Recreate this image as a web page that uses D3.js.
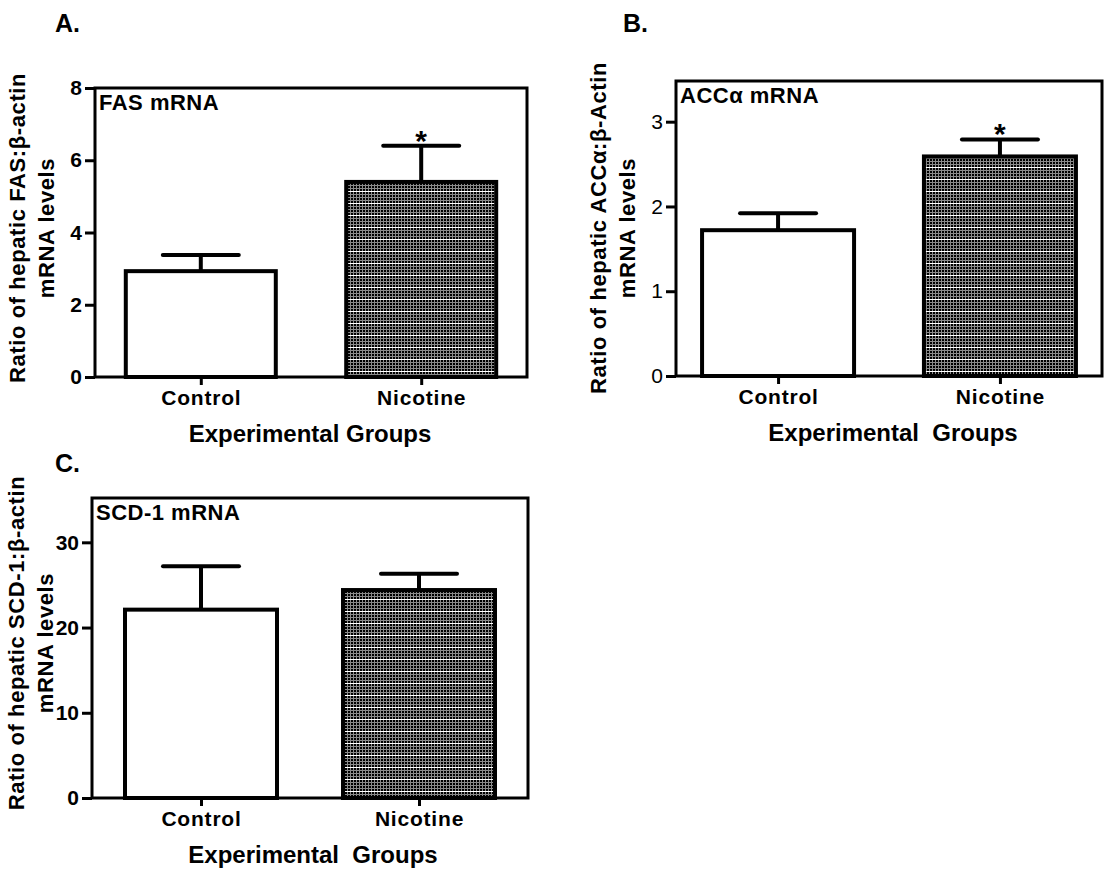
<!DOCTYPE html>
<html>
<head>
<meta charset="utf-8">
<script src="https://cdn.jsdelivr.net/npm/d3@7"></script>
<style>
  body { margin: 0; background: #fff; }
  text { font-family: "Liberation Sans", Arial, sans-serif; fill: #000; }
</style>
</head>
<body>
<svg id="chart" width="1105" height="869"></svg>
<script>
var groups = ["Control", "Nicotine"];

var fasMean = [2.93, 5.40],
    fasErr  = [0.45, 1.00];
var accMean = [1.72, 2.59],
    accErr  = [0.20, 0.20];
var scdMean = [22.1, 24.4],
    scdErr  = [5.1, 1.9];

var fasTicks = [0, 2, 4, 6, 8],
    accTicks = [0, 1, 2, 3],
    scdTicks = [0, 10, 20, 30];

var svg = d3.select("#chart");
var font = "Liberation Sans, Arial, sans-serif";

// dotted fill used for the nicotine bars
var defs = svg.append("defs");
var pat = defs.append("pattern")
    .attr("id", "dots")
    .attr("patternUnits", "userSpaceOnUse")
    .attr("width", 3)
    .attr("height", 12);
pat.append("rect").attr("width", 3).attr("height", 12).attr("fill", "#8a8a8a");
[0, 3, 6, 9].forEach(function(y) {
  pat.append("rect").attr("x", 0).attr("y", y).attr("width", 2).attr("height", 2).attr("fill", "#000");
});
pat.append("rect").attr("x", 0).attr("y", 11).attr("width", 3).attr("height", 1).attr("fill", "#fff");

function panel(cfg) {
  var g = svg.append("g");
  var w = cfg.right - cfg.left,
      h = cfg.bottom - cfg.top;

  var y = d3.scaleLinear().domain([0, cfg.ymax]).range([cfg.bottom, cfg.top]);
  var x = d3.scalePoint().domain(groups).range([cfg.left, cfg.right]).padding(cfg.pad);

  // panel letter
  g.append("text")
      .attr("x", cfg.letterX).attr("y", cfg.letterY)
      .attr("font-size", 25).attr("font-weight", "bold")
      .text(cfg.letter);

  // bars
  g.selectAll("rect.bar")
      .data(cfg.mean)
    .enter().append("rect")
      .attr("class", "bar")
      .attr("x", function(d, i) { return x(groups[i]) - cfg.barW / 2; })
      .attr("y", function(d) { return y(d); })
      .attr("width", cfg.barW)
      .attr("height", function(d) { return cfg.bottom - y(d); })
      .attr("fill", function(d, i) { return i ? "url(#dots)" : "#fff"; })
      .attr("stroke", "#000")
      .attr("stroke-width", 4);

  // error bars (upper only)
  cfg.mean.forEach(function(m, i) {
    var cx = x(groups[i]);
    g.append("line")
        .attr("x1", cx).attr("x2", cx)
        .attr("y1", y(m)).attr("y2", y(m + cfg.err[i]))
        .attr("stroke", "#000").attr("stroke-width", 4);
    g.append("line")
        .attr("x1", cx - 38).attr("x2", cx + 38)
        .attr("y1", y(m + cfg.err[i])).attr("y2", y(m + cfg.err[i]))
        .attr("stroke", "#000").attr("stroke-width", 4).attr("stroke-linecap", "round");
    if (cfg.star[i]) {
      g.append("text")
          .attr("x", cx).attr("y", y(m + cfg.err[i]) + 5)
          .attr("text-anchor", "middle")
          .attr("font-size", 30).attr("font-weight", "bold")
          .text("*");
    }
  });

  // frame
  g.append("rect")
      .attr("x", cfg.left).attr("y", cfg.top)
      .attr("width", w).attr("height", h)
      .attr("fill", "none").attr("stroke", "#000").attr("stroke-width", 3);

  // y axis
  var yAxis = g.append("g")
      .attr("transform", "translate(" + cfg.left + ",0)")
      .call(d3.axisLeft(y).tickValues(cfg.ticks).tickFormat(d3.format("d")).tickSize(10).tickPadding(3));
  yAxis.select(".domain").remove();
  yAxis.selectAll("line").attr("stroke-width", 3);
  yAxis.selectAll("text")
      .attr("font-size", 21)
      .attr("font-weight", cfg.tickBold ? "bold" : "normal")
      .attr("font-family", font)
      .attr("fill", "#000");

  // x axis
  var xAxis = g.append("g")
      .attr("transform", "translate(0," + cfg.bottom + ")")
      .call(d3.axisBottom(x).tickSize(8).tickPadding(5));
  xAxis.select(".domain").remove();
  xAxis.selectAll("line").attr("stroke-width", 3);
  xAxis.selectAll("text")
      .attr("font-size", 21)
      .attr("font-weight", "bold")
      .attr("font-family", font)
      .attr("letter-spacing", 0.8)
      .attr("fill", "#000");

  // inside title
  g.append("text")
      .attr("x", cfg.left + 4).attr("y", cfg.top + 22)
      .attr("font-size", 22).attr("font-weight", "bold")
      .attr("letter-spacing", 0.5)
      .text(cfg.title);

  // x title
  g.append("text")
      .attr("x", (cfg.left + cfg.right) / 2 + cfg.xTitleDx).attr("y", cfg.bottom + 65)
      .attr("text-anchor", "middle")
      .attr("font-size", 24).attr("font-weight", "bold")
      .style("white-space", "pre")
      .text(cfg.xTitle);

  // y title (two lines)
  var ty = g.append("text")
      .attr("transform", "translate(" + cfg.yTitleX + "," + cfg.yTitleY + ") rotate(-90)")
      .attr("text-anchor", "middle")
      .attr("font-size", 22).attr("font-weight", "bold")
      .attr("letter-spacing", 0.6);
  ty.append("tspan").attr("x", 0).attr("dy", 0).text(cfg.yTitle[0]);
  ty.append("tspan").attr("x", 0).attr("dy", 29).text(cfg.yTitle[1]);
}

panel({
  letter: "A.", letterX: 55, letterY: 32,
  left: 95, right: 527, top: 88, bottom: 377, ymax: 8, pad: 0.48, barW: 150,
  mean: fasMean, err: fasErr, star: [false, true], ticks: fasTicks, tickBold: true,
  title: "FAS mRNA",
  xTitle: "Experimental Groups", xTitleDx: -1,
  yTitle: ["Ratio of hepatic FAS:\u03b2-actin", "mRNA levels"], yTitleX: 25, yTitleY: 228
});

panel({
  letter: "B.", letterX: 623, letterY: 32,
  left: 676, right: 1102, top: 81, bottom: 376, ymax: 3.48, pad: 0.46, barW: 152,
  mean: accMean, err: accErr, star: [false, true], ticks: accTicks, tickBold: false,
  title: "ACC\u03b1 mRNA",
  xTitle: "Experimental  Groups", xTitleDx: 4,
  yTitle: ["Ratio of hepatic ACC\u03b1:\u03b2-Actin", "mRNA levels"], yTitleX: 606, yTitleY: 228
});

panel({
  letter: "C.", letterX: 55, letterY: 472,
  left: 92, right: 528, top: 498, bottom: 798, ymax: 35.2, pad: 0.5, barW: 152,
  mean: scdMean, err: scdErr, star: [false, false], ticks: scdTicks, tickBold: true,
  title: "SCD-1 mRNA",
  xTitle: "Experimental  Groups", xTitleDx: 3,
  yTitle: ["Ratio of hepatic SCD-1:\u03b2-actin", "mRNA levels"], yTitleX: 24, yTitleY: 643
});
</script>
</body>
</html>
